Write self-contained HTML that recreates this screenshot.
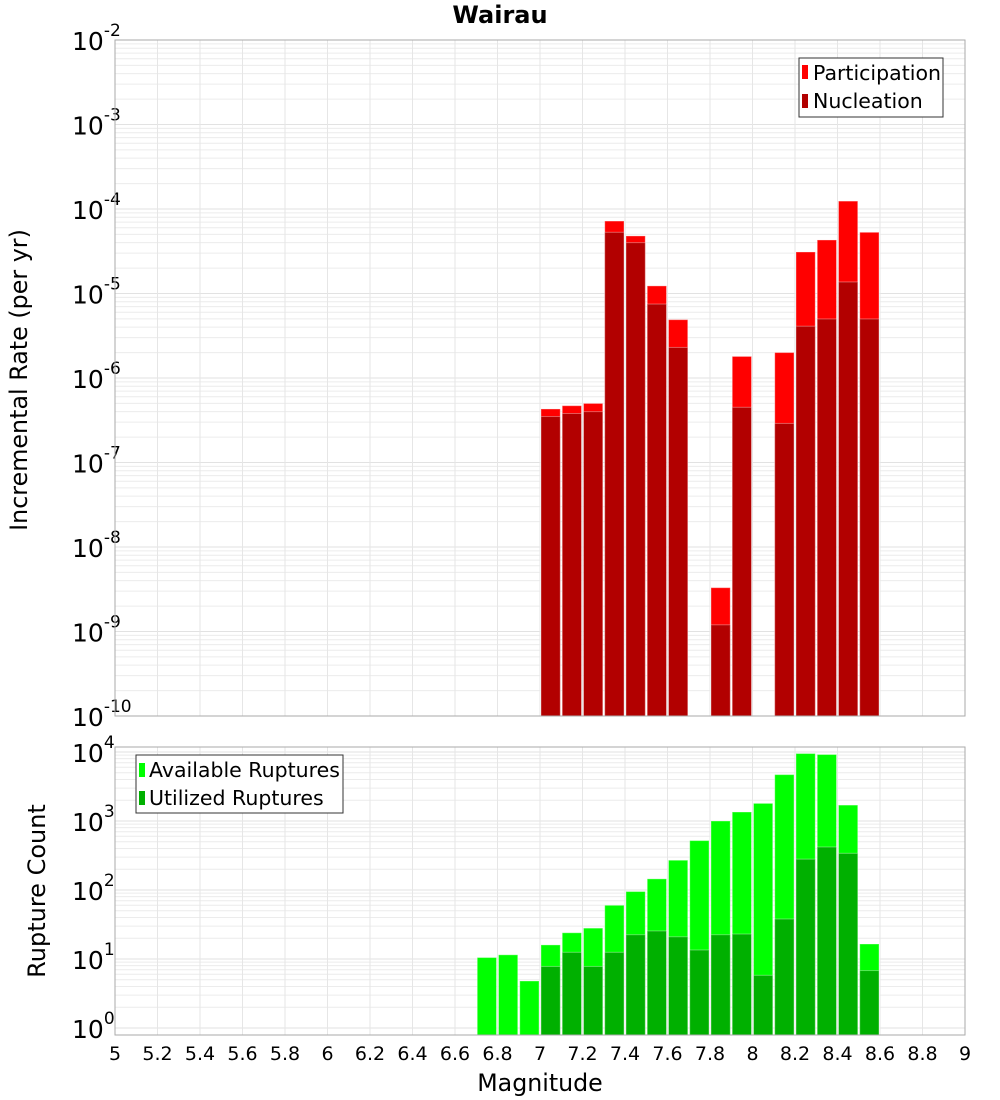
<!DOCTYPE html>
<html><head><meta charset="utf-8"><style>
body{margin:0;background:#fff;}
svg{display:block;font-family:"DejaVu Sans","Liberation Sans",sans-serif;}
</style></head><body>
<svg id="chart" width="1000" height="1100">
<text x="500" y="23" text-anchor="middle" font-size="24" font-weight="bold">Wairau</text>
<text transform="translate(27,380) rotate(-90)" text-anchor="middle" font-size="23.8">Incremental Rate (per yr)</text>
<text transform="translate(45,891) rotate(-90)" text-anchor="middle" font-size="24">Rupture Count</text>
<text x="540" y="1091" text-anchor="middle" font-size="23.7">Magnitude</text>
<g id="top"></g>
<g id="bot"></g>
<g>
<rect x="799" y="58" width="144" height="59" fill="#fff" stroke="#333"/>
<rect x="802" y="65" width="6" height="14" fill="#ff0000"/>
<text x="813" y="80" font-size="20.5">Participation</text>
<rect x="802" y="94" width="6" height="14" fill="#b20000"/>
<text x="813" y="108" font-size="20.5">Nucleation</text>
</g>
<g>
<rect x="136" y="755" width="207" height="58" fill="#fff" stroke="#333"/>
<rect x="139" y="763" width="6" height="14" fill="#00ff00"/>
<text x="149" y="777" font-size="20.5">Available Ruptures</text>
<rect x="139" y="791" width="6" height="14" fill="#00b000"/>
<text x="149" y="805" font-size="20.5">Utilized Ruptures</text>
</g>
</svg>
<script>
const mags=[6.75,6.85,6.95,7.05,7.15,7.25,7.35,7.45,7.55,7.65,7.75,7.85,7.95,8.05,8.15,8.25,8.35,8.45,8.55];
const participation=[0,0,0,4.3e-7,4.7e-7,5.0e-7,7.2e-5,4.8e-5,1.23e-5,4.9e-6,0,3.3e-9,1.8e-6,0,2.0e-6,3.1e-5,4.3e-5,1.24e-4,5.3e-5];
const nucleation=[0,0,0,3.5e-7,3.8e-7,4.0e-7,5.3e-5,4.0e-5,7.5e-6,2.3e-6,0,1.2e-9,4.5e-7,0,2.9e-7,4.1e-6,5.0e-6,1.37e-5,5.0e-6];
const available=[10.5,11.5,4.8,16,24,28,60,95,145,270,520,1000,1350,1800,4700,9500,9200,1700,16.5];
const utilized=[0,0,0,7.8,12.5,7.8,12.5,22.5,25.5,21,13.5,22.5,23,5.8,38,280,420,340,6.8];
const xTicks=[5,5.2,5.4,5.6,5.8,6,6.2,6.4,6.6,6.8,7,7.2,7.4,7.6,7.8,8,8.2,8.4,8.6,8.8,9];
const topExps=[-10,-9,-8,-7,-6,-5,-4,-3,-2];
const botExps=[0,1,2,3,4];
const NS="http://www.w3.org/2000/svg";
const X0=115,X1=965;
const xs=m=>X0+(m-5)/4*(X1-X0);
const yTop=v=>716-(Math.log10(v)+10)*84.5;
const yBot=v=>1028-Math.log10(v)*69;
function mk(p,tag,a){const e=document.createElementNS(NS,tag);for(const k in a)e.setAttribute(k,a[k]);p.appendChild(e);return e;}
function panel(g,yT,yB,fy,exps,name){
  for(let i=0;i<exps.length;i++){
    for(let k=1;k<10;k++){
      const y=fy(k*Math.pow(10,exps[i]));
      if(y<yT-0.5||y>yB+0.5)continue;
      const l=mk(g,'line',{x1:X0,x2:X1,y1:y,y2:y,stroke:k==1?'#e2e2e2':'#ececec','stroke-width':1});
      
      
    }
  }
  xTicks.forEach(t=>{const x=xs(t);const l=mk(g,'line',{x1:x,x2:x,y1:yT,y2:yB,stroke:'#e6e6e6'});
    
    });
  exps.forEach(e=>{const y=fy(Math.pow(10,e));
    const t=mk(g,'text',{x:72,y:y+10,'font-size':25});
    t.textContent='10';
    const s=mk(t,'tspan',{dy:-14,'font-size':17});s.textContent=String(e);
    
    });
}
function frame(g,yT,yB,name){const r=mk(g,'rect',{x:X0,y:yT,width:X1-X0,height:yB-yT,fill:'none',stroke:'#aaa'});
  
  }
function bars(g,vals,fy,yB,fill,name){
  const w=(X1-X0)/40;
  mags.forEach((m,i)=>{if(!vals[i])return;const y=Math.max(fy(vals[i]),0);
    const r=mk(g,'rect',{x:xs(m)-w/2+1,y:y,width:w-2,height:yB-y,fill:fill,stroke:'rgba(255,255,255,0.35)','stroke-width':1});
    
    });
}
const gt=document.getElementById('top'),gb=document.getElementById('bot');
panel(gt,40,716,yTop,topExps,'rate');
bars(gt,participation,yTop,716,'#ff0000','participation');
bars(gt,nucleation,yTop,716,'#b20000','nucleation');
frame(gt,40,716,'rate');
panel(gb,747,1035,yBot,botExps,'count');
bars(gb,available,yBot,1035,'#00ff00','available');
bars(gb,utilized,yBot,1035,'#00b000','utilized');
frame(gb,747,1035,'count');
xTicks.forEach(t=>{const tx=mk(gb,'text',{x:xs(t),y:1060,'text-anchor':'middle','font-size':19});
  tx.textContent=String(t);
  
  });
</script>
</body></html>
